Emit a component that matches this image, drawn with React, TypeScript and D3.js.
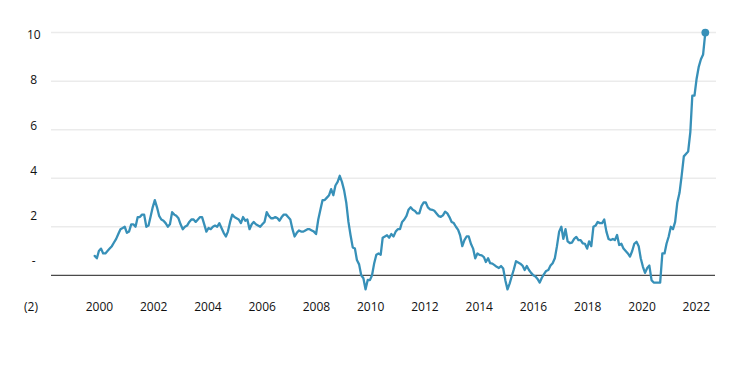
import React from "react";
import * as d3 from "d3";

// Monthly annual inflation rate (%), January 1999 – September 2022
const START_YEAR = 1999;
const START_MONTH = 0;
const y1999 = [0.8, 0.7, 1.0, 1.1, 0.9, 0.9, 1.0, 1.1, 1.2, 1.35, 1.5, 1.7];
const y2000 = [1.9, 1.95, 2.0, 1.75, 1.8, 2.1, 2.1, 2.0, 2.4, 2.4, 2.5, 2.5];
const y2001 = [2.0, 2.05, 2.4, 2.8, 3.1, 2.8, 2.45, 2.3, 2.25, 2.15, 2.0, 2.1];
const y2002 = [2.6, 2.5, 2.45, 2.35, 2.1, 1.9, 2.0, 2.05, 2.2, 2.3, 2.3, 2.2];
const y2003 = [2.3, 2.4, 2.4, 2.1, 1.8, 1.95, 1.9, 2.0, 2.05, 2.0, 2.15, 1.95];
const y2004 = [1.75, 1.6, 1.8, 2.2, 2.5, 2.4, 2.35, 2.3, 2.15, 2.4, 2.25, 2.3];
const y2005 = [1.9, 2.1, 2.2, 2.1, 2.05, 2.0, 2.1, 2.2, 2.6, 2.45, 2.35, 2.35];
const y2006 = [2.4, 2.35, 2.25, 2.4, 2.5, 2.5, 2.4, 2.3, 1.9, 1.6, 1.75, 1.85];
const y2007 = [1.8, 1.8, 1.85, 1.9, 1.9, 1.85, 1.8, 1.7, 2.3, 2.7, 3.1, 3.1];
const y2008 = [3.2, 3.3, 3.55, 3.3, 3.7, 3.85, 4.1, 3.85, 3.5, 3.0, 2.2, 1.65];
const y2009 = [1.15, 1.1, 0.63, 0.45, 0.0, -0.12, -0.58, -0.19, -0.2, 0.0, 0.5, 0.85];
const y2010 = [0.9, 0.85, 1.55, 1.6, 1.65, 1.55, 1.7, 1.6, 1.8, 1.9, 1.9, 2.2];
const y2011 = [2.3, 2.45, 2.7, 2.8, 2.7, 2.65, 2.55, 2.55, 2.85, 3.0, 3.0, 2.8];
const y2012 = [2.72, 2.7, 2.66, 2.55, 2.44, 2.41, 2.47, 2.62, 2.55, 2.4, 2.2, 2.15];
const y2013 = [2.0, 1.87, 1.65, 1.2, 1.45, 1.6, 1.6, 1.3, 1.1, 0.7, 0.9, 0.84];
const y2014 = [0.82, 0.75, 0.55, 0.7, 0.5, 0.48, 0.42, 0.35, 0.3, 0.38, 0.28, -0.2];
const y2015 = [-0.58, -0.33, -0.05, 0.25, 0.58, 0.53, 0.48, 0.4, 0.22, 0.38, 0.22, 0.1];
const y2016 = [0.0, -0.05, -0.15, -0.3, -0.1, 0.05, 0.18, 0.22, 0.4, 0.5, 0.7, 1.2];
const y2017 = [1.8, 2.0, 1.5, 1.9, 1.4, 1.33, 1.35, 1.5, 1.58, 1.45, 1.45, 1.32];
const y2018 = [1.3, 1.1, 1.4, 1.2, 2.0, 2.05, 2.2, 2.15, 2.15, 2.3, 1.8, 1.5];
const y2019 = [1.45, 1.5, 1.45, 1.66, 1.25, 1.3, 1.1, 1.0, 0.9, 0.77, 1.0, 1.3];
const y2020 = [1.38, 1.2, 0.7, 0.35, 0.1, 0.3, 0.4, -0.2, -0.3, -0.3, -0.3, -0.3];
const y2021 = [0.9, 0.9, 1.3, 1.6, 2.0, 1.9, 2.2, 3.0, 3.4, 4.1, 4.9, 5.0];
const y2022 = [5.1, 5.9, 7.4, 7.4, 8.1, 8.6, 8.9, 9.1, 10.0];

const monthlyValues = [
  ...y1999, ...y2000, ...y2001, ...y2002, ...y2003, ...y2004, ...y2005, ...y2006,
  ...y2007, ...y2008, ...y2009, ...y2010, ...y2011, ...y2012, ...y2013, ...y2014,
  ...y2015, ...y2016, ...y2017, ...y2018, ...y2019, ...y2020, ...y2021, ...y2022,
];

const gridValues = [2, 4, 6, 8, 10];
const yTickValues = [10, 8, 6, 4, 2, 0, -2];
const yTickLabels = ["10", "8", "6", "4", "2", "-", "(2)"];
const xTickYears = [2000, 2002, 2004, 2006, 2008, 2010, 2012, 2014, 2016, 2018, 2020, 2022];

const W = 740;
const H = 365;
const LINE_COLOR = "#3790b8";
const FONT = "'Open Sans', 'Liberation Sans', sans-serif";

export default function App() {
  const data = monthlyValues.map((v, i) => ({
    date: new Date(START_YEAR, START_MONTH + i, 1),
    value: v,
  }));
  const last = data[data.length - 1];

  const x = d3.scaleTime().domain([data[0].date, last.date]).range([94.7, 705.3]);
  const y = d3.scaleLinear().domain([0, 10]).range([275.3, 32.6]);
  const yLabel = d3.scaleLinear().domain([-2, 10]).range([306, 34.5]);
  const xLabel = d3.scaleLinear().domain([2000, 2022]).range([99.4, 696.3]);

  const line = d3
    .line<{ date: Date; value: number }>()
    .x((d) => x(d.date))
    .y((d) => y(d.value));

  const gridLeft = 51;
  const gridRight = 716;

  return (
    <svg
      width={W}
      height={H}
      style={{ position: "absolute", left: 0, top: 0, background: "#fff" }}
    >
      <rect x={0} y={0} width={W} height={H} fill="#fff" />
      {gridValues.map((g) => (
        <line
          key={g}
          x1={gridLeft}
          x2={gridRight}
          y1={y(g)}
          y2={y(g)}
          stroke="#ebebeb"
          strokeWidth={1.5}
        />
      ))}
      <line
        x1={gridLeft}
        x2={gridRight - 1}
        y1={y(0)}
        y2={y(0)}
        stroke="#4a4a4a"
        strokeWidth={1.2}
      />
      {yTickValues.map((v, i) => (
        <text
          key={v}
          x={v === -2 ? 31 : 33.8}
          y={yLabel(v)}
          textAnchor="middle"
          dominantBaseline="central"
          fontFamily={FONT}
          fontSize={12}
          fill="#111"
        >
          {yTickLabels[i]}
        </text>
      ))}
      {xTickYears.map((yr) => (
        <text
          key={yr}
          x={xLabel(yr)}
          y={yLabel(-2)}
          textAnchor="middle"
          dominantBaseline="central"
          fontFamily={FONT}
          fontSize={12}
          fill="#111"
        >
          {yr}
        </text>
      ))}
      <path
        d={line(data) || ""}
        fill="none"
        stroke={LINE_COLOR}
        strokeWidth={2.3}
        strokeLinejoin="round"
        strokeLinecap="round"
      />
      <circle cx={x(last.date)} cy={y(last.value)} r={3.9} fill={LINE_COLOR} />
    </svg>
  );
}
